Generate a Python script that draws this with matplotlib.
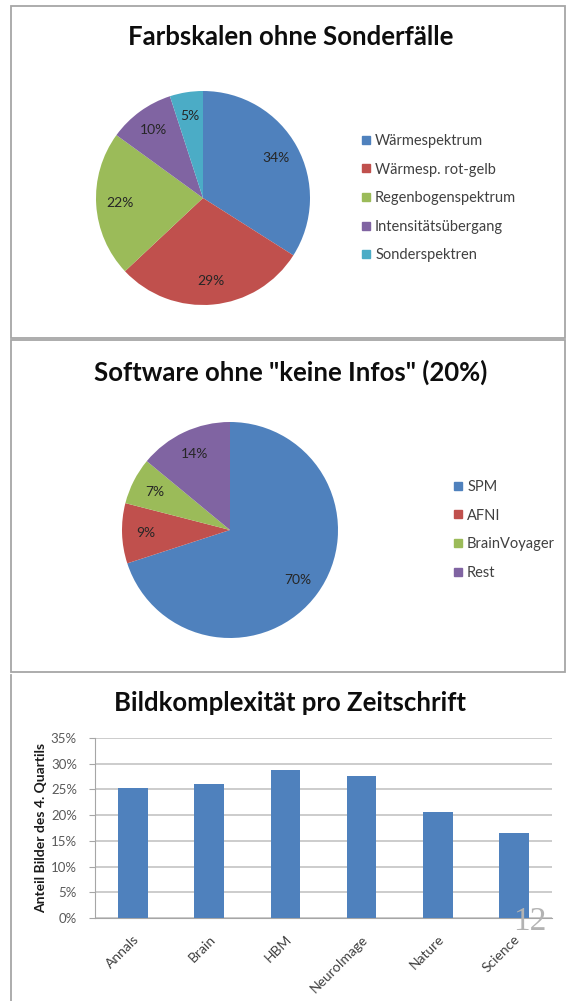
import matplotlib
matplotlib.use('Agg')
from matplotlib import pyplot as plt
from matplotlib.patches import Rectangle
from matplotlib.lines import Line2D

plt.rcParams['font.family'] = ['Lato', 'DejaVu Sans']

# data
farb_labels = ['Wärmespektrum', 'Wärmesp. rot-gelb', 'Regenbogenspektrum',
               'Intensitätsübergang', 'Sonderspektren']
farb_values = [34, 29, 22, 10, 5]

soft_labels = ['SPM', 'AFNI', 'BrainVoyager', 'Rest']
soft_values = [70, 9, 7, 14]

journals = ['Annals', 'Brain', 'HBM', 'NeuroImage', 'Nature', 'Science']
anteil = [25.2, 26.0, 28.8, 27.7, 20.6, 16.5]
y_ticks = [0, 5, 10, 15, 20, 25, 30, 35]

colors5 = ['#4F81BD', '#C0504D', '#9BBB59', '#8064A2', '#4BACC6']

W, H = 566, 1001
fig = plt.figure(figsize=(W / 100, H / 100), dpi=100)


def px_axes(x0, y0, x1, y1):
    # pixel box (top-left origin) -> figure axes
    return fig.add_axes([x0 / W, 1 - y1 / H, (x1 - x0) / W, (y1 - y0) / H])


def frame(x0, y0, x1, y1):
    fig.add_artist(Rectangle((x0 / W, 1 - y1 / H), (x1 - x0) / W, (y1 - y0) / H,
                             transform=fig.transFigure, fill=False,
                             edgecolor='#a6a6a6', lw=1.3))


def pie_panel(cx, cy, r, values, labels, cols, legend_xy, title, title_y):
    ax = px_axes(cx - r, cy - r, cx + r, cy + r)
    ax.pie(values, colors=cols, startangle=90, counterclock=False,
           autopct='%d%%', pctdistance=0.78,
           textprops={'fontsize': 10, 'color': '#262626'})
    ax.set_xlim(-1, 1)
    ax.set_ylim(-1, 1)
    ax.set_aspect('equal')
    handles = [Line2D([], [], marker='s', ls='', markersize=6, color=c) for c in cols]
    fig.legend(handles, labels, loc='upper left',
               bbox_to_anchor=(legend_xy[0] / W, 1 - legend_xy[1] / H),
               frameon=False, fontsize=10.5, labelspacing=1.0,
               handlelength=0.6, handletextpad=0.3, labelcolor='#404040',
               borderpad=0, borderaxespad=0)
    fig.text(0.513, 1 - title_y / H, title, ha='center', va='center',
             fontsize=18.5, fontweight='bold', color='#0d0d0d')


frame(11, 6, 565, 338)
frame(11, 340, 565, 672)
fig.add_artist(Line2D([11 / W, 11 / W], [0, 1 - 675 / H], transform=fig.transFigure,
                      color='#a6a6a6', lw=1.3))

pie_panel(203, 198, 107, farb_values, farb_labels, colors5, (362, 134),
          'Farbskalen ohne Sonderfälle', 37)
pie_panel(230, 530, 108, soft_values, soft_labels, colors5[:4], (454, 480),
          'Software ohne "keine Infos" (20%)', 372)

# bar chart
fig.text(0.513, 1 - 703 / H, 'Bildkomplexität pro Zeitschrift', ha='center',
         va='center', fontsize=18.5, fontweight='bold', color='#0d0d0d')
ax3 = px_axes(95, 738, 552, 918)
ax3.bar(range(len(journals)), anteil, width=0.39, color='#4F81BD', zorder=3)
ax3.set_xlim(-0.5, len(journals) - 0.5)
ax3.set_ylim(0, 35)
ax3.set_yticks(y_ticks)
ax3.set_yticklabels([f'{t}%' for t in y_ticks], fontsize=9.5, color='#595959')
ax3.set_xticks(range(len(journals)))
ax3.set_xticklabels(journals, rotation=45, ha='right', rotation_mode='anchor',
                    fontsize=10, color='#404040')
ax3.tick_params(axis='y', length=4, pad=9, color='#a6a6a6')
ax3.tick_params(axis='x', length=0, pad=11)
ax3.grid(axis='y', color='#bfbfbf', lw=1.1, zorder=0)
for s in ['top', 'right']:
    ax3.spines[s].set_visible(False)
for s in ['left', 'bottom']:
    ax3.spines[s].set_color('#a6a6a6')
ax3.set_ylabel('Anteil Bilder des 4. Quartils', fontsize=10, fontweight='bold',
               color='#1a1a1a', labelpad=3)

fig.text(530 / W, 1 - 922 / H, '12', ha='center', va='center', fontsize=24,
         family='Liberation Serif', color='#b3b3b3')

fig.savefig('out.png', dpi=100, facecolor='white')
